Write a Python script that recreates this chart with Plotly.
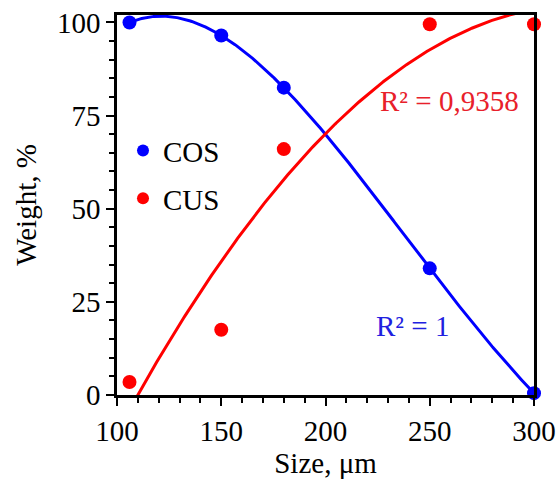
import numpy as np
import plotly.graph_objects as go

size = [106, 150, 180, 250, 300]
cos_w = [100.0, 96.5, 82.5, 34.0, 0.5]
cus_w = [3.5, 17.5, 66.0, 99.5, 99.5]
x_ticks = [100, 150, 200, 250, 300]
y_ticks = [0, 25, 50, 75, 100]

BLUE = "#0000ff"
RED = "#ff0000"
FONT = "Liberation Serif"
FS = 29

xs = np.linspace(min(size), max(size), 300)
cos_fit = np.polyval(np.polyfit(size, cos_w, 4), xs)
cus_fit = np.polyval(np.polyfit(size, cus_w, 2), xs)

fig = go.Figure()
fig.add_trace(go.Scatter(x=xs, y=cos_fit, mode="lines", line=dict(color=BLUE, width=3), showlegend=False))
fig.add_trace(go.Scatter(x=xs, y=cus_fit, mode="lines", line=dict(color=RED, width=3), showlegend=False))
fig.add_trace(go.Scatter(x=size, y=cos_w, mode="markers", name="COS", cliponaxis=False, legendgroup="a",
                         marker=dict(color=BLUE, size=14)))
fig.add_trace(go.Scatter(x=size, y=cus_w, mode="markers", name="CUS", cliponaxis=False, legendgroup="b",
                         marker=dict(color=RED, size=14)))

fig.add_annotation(x=259.5, y=79, text="R² = 0,9358", showarrow=False,
                   font=dict(family=FONT, size=FS, color="#e8202a"))
fig.add_annotation(x=241.5, y=18.5, text="R² = 1", showarrow=False,
                   font=dict(family=FONT, size=FS, color="#2020e0"))

axis_common = dict(showline=True, linecolor="black", linewidth=2.5, mirror=True,
                   showgrid=False, zeroline=False, ticks="outside", ticklen=8,
                   tickwidth=2, tickcolor="black", automargin=False,
                   tickfont=dict(family=FONT, size=FS, color="black"))

fig.update_xaxes(range=[100, 300], tickvals=x_ticks,
                 title=dict(text="Size, μm", font=dict(family=FONT, size=FS, color="black"), standoff=6),
                 minor=dict(dtick=10, tick0=100, ticks="outside", ticklen=5, tickwidth=2, tickcolor="black"),
                 **axis_common)
fig.update_yaxes(range=[0, 102], tickvals=y_ticks,
                 title=dict(text="Weight, %", font=dict(family=FONT, size=FS, color="black"), standoff=12),
                 minor=dict(dtick=5, tick0=0, ticks="outside", ticklen=5, tickwidth=2, tickcolor="black"),
                 **axis_common)

fig.update_layout(
    width=558, height=481,
    margin=dict(l=117, r=24, t=15, b=86),
    plot_bgcolor="white", paper_bgcolor="white",
    legend=dict(x=0.0144, y=0.71, xanchor="left", yanchor="top", bgcolor="rgba(0,0,0,0)",
                font=dict(family=FONT, size=FS, color="black"), itemsizing="constant",
                tracegroupgap=7),
)

fig.write_html("out.html")
